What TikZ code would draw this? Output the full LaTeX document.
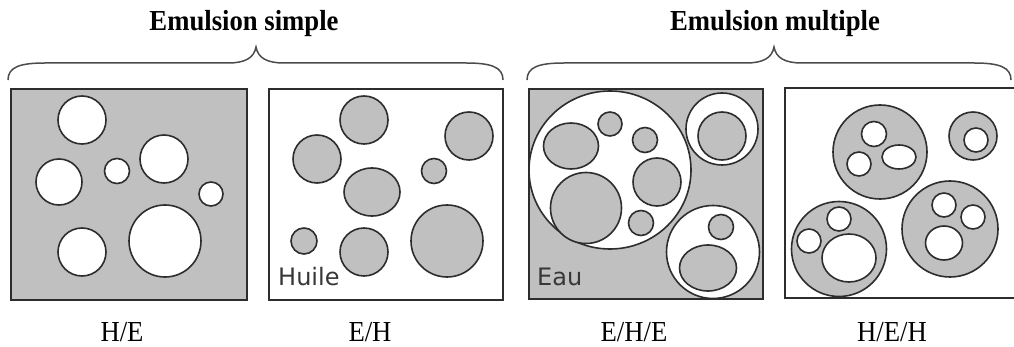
\documentclass[tikz,border=0pt]{standalone}
\usepackage{fontspec}
\setmainfont{Liberation Serif}
\newfontfamily\timesnarrow[FakeStretch=0.92]{Liberation Serif}
\newfontfamily\sansfont{DejaVu Sans}
\definecolor{fillg}{RGB}{192,192,192}
\definecolor{edge}{RGB}{45,45,45}
\definecolor{txtg}{RGB}{55,55,55}
\tikzset{
  panel/.style={draw=edge, line width=1.9pt},
  drop/.style={draw=edge, line width=1.6pt},
  gdrop/.style={drop, fill=fillg},
  wdrop/.style={drop, fill=white},
  bracepath/.style={draw=edge!85, line width=1.5pt},
  title/.style={font=\timesnarrow\bfseries\fontsize{29}{30}\selectfont, anchor=base, inner sep=0pt},
  caption/.style={font=\timesnarrow\fontsize{29}{30}\selectfont, anchor=base, inner sep=0pt},
  phase/.style={font=\sansfont\fontsize{24}{25}\selectfont, text=txtg, anchor=base west, inner sep=0pt},
}
\begin{document}
\begin{tikzpicture}[x=1pt,y=-1pt]
\useasboundingbox (0,0) rectangle (1014,347);
\clip (0,0) rectangle (1014,347);
\fill[white] (0,0) rectangle (1014,347);

% ---- Panel 1 : H/E
\fill[fillg] (11,89) rectangle (247,300);
\path[wdrop] (82,120) circle[radius=24pt];
\path[wdrop] (59,182) circle[radius=23pt];
\path[wdrop] (117,171) circle[radius=12.5pt];
\path[wdrop] (164,159) circle[radius=24pt];
\path[wdrop] (211,194) circle[radius=12pt];
\path[wdrop] (82,252) circle[radius=24pt];
\path[wdrop] (165,241) circle[radius=36pt];
\draw[panel] (11,89) rectangle (247,300);

% ---- Panel 2 : E/H
\fill[white] (269,89) rectangle (503,300);
\path[gdrop] (364,120) circle[radius=24pt];
\path[gdrop] (317,159) circle[radius=24pt];
\path[gdrop] (372,192) ellipse[x radius=28pt, y radius=24pt];
\path[gdrop] (469,136) circle[radius=24pt];
\path[gdrop] (434,171) circle[radius=12.5pt];
\path[gdrop] (447,241) circle[radius=36pt];
\path[gdrop] (304,241) circle[radius=13pt];
\path[gdrop] (364,252) circle[radius=24pt];
\draw[panel] (269,89) rectangle (503,300);
\node[phase] (huile) at (278,285) {Huile};

% ---- Panel 3 : E/H/E
\fill[fillg] (529,89) rectangle (763,299);
\path[wdrop] (610,170) ellipse[x radius=81pt, y radius=79pt];
\path[gdrop] (571,146) ellipse[x radius=27.5pt, y radius=23pt];
\path[gdrop] (610,124) circle[radius=12pt];
\path[gdrop] (645,140) circle[radius=12.5pt];
\path[gdrop] (657,182) circle[radius=24pt];
\path[gdrop] (586,208) circle[radius=35.5pt];
\path[gdrop] (641,223) circle[radius=12.5pt];
\path[wdrop] (722,129) circle[radius=36pt];
\path[gdrop] (722,136) circle[radius=24pt];
\path[wdrop] (713,252) circle[radius=46.5pt];
\path[gdrop] (721,227) circle[radius=12.5pt];
\path[gdrop] (708,268) ellipse[x radius=28.5pt, y radius=23pt];
\draw[panel] (529,89) rectangle (763,299);
\node[phase] (eau) at (537,286) {Eau};

% ---- Panel 4 : H/E/H
\fill[white] (785,88) rectangle (1030,298);
\path[gdrop] (880,152) circle[radius=47pt];
\path[wdrop] (874,134) circle[radius=12.5pt];
\path[wdrop] (859,164) circle[radius=12pt];
\path[wdrop] (899,157) ellipse[x radius=17pt, y radius=12pt];
\path[gdrop] (973,136) circle[radius=24pt];
\path[wdrop] (976,140) circle[radius=12pt];
\path[gdrop] (839,249) circle[radius=47.5pt];
\path[wdrop] (839,219) circle[radius=12pt];
\path[wdrop] (809,241) circle[radius=12pt];
\path[wdrop] (849,258) ellipse[x radius=27pt, y radius=24pt];
\path[gdrop] (950,229) circle[radius=48pt];
\path[wdrop] (944,205) circle[radius=12pt];
\path[wdrop] (973,217) circle[radius=12pt];
\path[wdrop] (944,243) ellipse[x radius=18.5pt, y radius=17pt];
\draw[panel] (785,88) rectangle (1030,298);

% ---- Braces
\coordinate (b1l) at (8,80);
\coordinate (b1t) at (256,47);
\coordinate (b1r) at (503,80);
\draw[bracepath] (b1l) .. controls (8,67) and (20,63) .. (45,63) -- (228,63)
  .. controls (245,63) and (254,58) .. (b1t)
  .. controls (258,58) and (267,63) .. (284,63) -- (466,63)
  .. controls (491,63) and (503,67) .. (b1r);
\coordinate (b2l) at (527,80);
\coordinate (b2t) at (774,47);
\coordinate (b2r) at (1011,80);
\draw[bracepath] (b2l) .. controls (527,67) and (539,63) .. (564,63) -- (746,63)
  .. controls (763,63) and (772,58) .. (b2t)
  .. controls (776,58) and (785,63) .. (802,63) -- (974,63)
  .. controls (999,63) and (1011,67) .. (b2r);

% ---- Titles and captions
\node[title] (t1) at (244,31) {Emulsion simple};
\node[title] (t2) at (775,31) {Emulsion multiple};
\node[caption] (c1) at (122,341) {H/E};
\node[caption] (c2) at (370,341) {E/H};
\node[caption] (c3) at (634,341) {E/H/E};
\node[caption] (c4) at (892,341) {H/E/H};
\end{tikzpicture}
\end{document}
